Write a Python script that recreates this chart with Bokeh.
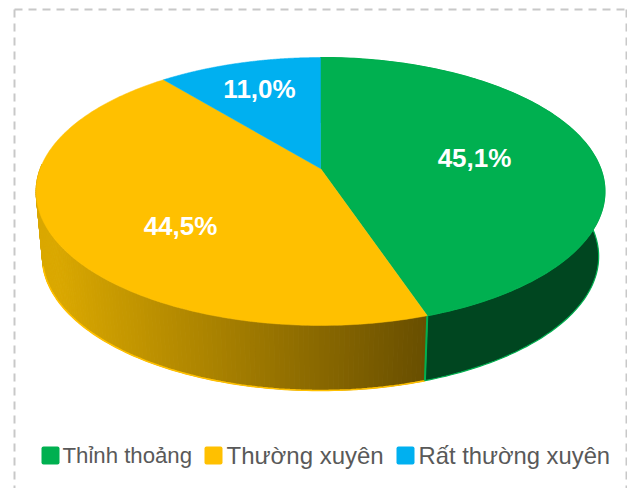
import numpy as np
from bokeh.plotting import figure
from bokeh.models import Range1d
from bokeh.core.properties import value
from bokeh.embed import file_html
from bokeh.resources import INLINE

categories = ["Thỉnh thoảng", "Thường xuyên", "Rất thường xuyên"]
shares = [45.1, 44.5, 11.0]
labels = ["45,1%", "44,5%", "11,0%"]
colors = ["#00B050", "#FFC000", "#00B0F0"]
label_x = [474, 180, 259]
label_y = [157, 225, 88]
legend_sq_x = [50, 213, 405]
legend_tx_x = [62, 226, 418]
legend_size = ["22.2px", "24px", "23.8px"]
W, H = 627, 488
CX, CY, K, B, C = 320.0, 168.0, 280.2, -101.2, 0.1716
DEPTH, SHRINK = 65.0, 0.978


def rim(theta):
    u, v = np.sin(theta), np.cos(theta)
    d = 1 + C * v
    return CX + K * u / d, (CY + B * v) / d


def low(theta):
    x, y = rim(theta)
    return CX + SHRINK * (x - CX), y + DEPTH


def mix(a, b, t):
    t = min(max(t, 0), 1)
    return "#%02x%02x%02x" % tuple(int(round(a[i] + (b[i] - a[i]) * t)) for i in range(3))


p = figure(width=W, height=H, output_backend="svg", toolbar_location=None,
           x_range=Range1d(0, W), y_range=Range1d(H, 0),
           min_border=0, outline_line_color=None, background_fill_color="white")
p.axis.visible = False
p.grid.visible = False

# dashed frame
p.line([14, 14], [9, H], line_color="#c8c8c8", line_width=2, line_dash="8 6")
p.line([14, 626], [9, 9], line_color="#c8c8c8", line_width=2, line_dash="8 6")
p.line([626, 626], [9, H], line_color="#c8c8c8", line_width=2, line_dash="8 6")

edges = np.radians(np.cumsum([0] + shares) / sum(shares) * 360)

# side wall, green
t = np.linspace(edges[0], edges[1], 160)
xt, yt = rim(t)
xl, yl = low(t)
p.patch(np.r_[xt, xl[::-1]], np.r_[yt, yl[::-1]], fill_color="#004620",
        line_color=colors[0], line_width=1.2)
# side wall, gold gradient (only the visible, lower part of the rim)
t = np.linspace(edges[1], np.radians(272), 130)
xs, ys, cs = [], [], []
for a, b in zip(t[:-1], t[1:]):
    x1, y1 = rim(a); x2, y2 = rim(b)
    x3, y3 = low(b); x4, y4 = low(a)
    xs.append([x1, x2, x3, x4]); ys.append([y1, y2, y3, y4])
    xm = (x3 + x4) / 2
    cs.append(mix((218, 168, 0), (104, 78, 0), (xm - 60) / 364))
p.patches(xs, ys, fill_color=cs, line_color=cs, line_width=1)
xl, yl = low(np.linspace(edges[1], np.radians(256), 100))
p.line(xl, yl, line_color=colors[1], line_width=1.6)
# green seam between the two walls
x0, y0 = rim(edges[1])
x1, y1 = low(edges[1])
p.line([x0, x1], [y0, y1], line_color=colors[0], line_width=2)

# top face
for i in range(3):
    t = np.linspace(edges[i], edges[i + 1], 200)
    x, y = rim(t)
    p.patch(np.r_[CX, x], np.r_[CY, y], fill_color=colors[i], line_color=colors[i], line_width=0.5)

p.text(label_x, label_y, text=labels, text_color="white", text_align="center",
       text_baseline="middle", text_font=value("Liberation Sans"), text_font_style="bold",
       text_font_size="26px")

# legend
p.rect(legend_sq_x, [455] * 3, width=18, height=18, fill_color=colors, line_color=None,
       border_radius=2)
for i in range(3):
    p.text([legend_tx_x[i]], [455], text=[categories[i]], text_color="#595959",
           text_baseline="middle", text_font=value("Liberation Sans"),
           text_font_size=legend_size[i])

open("out.html", "w").write(file_html(p, INLINE))
